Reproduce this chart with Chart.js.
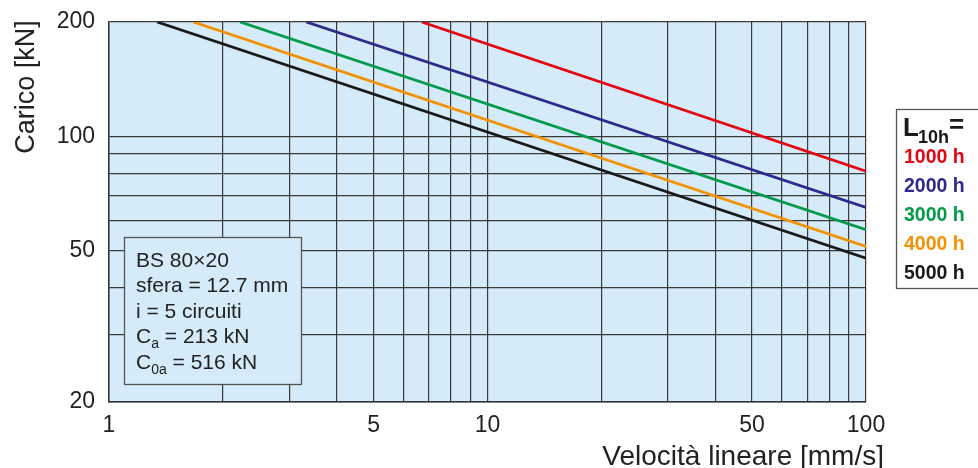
<!DOCTYPE html>
<html>
<head>
<meta charset="utf-8">
<script src="https://cdn.jsdelivr.net/npm/chart.js@4.4.1/dist/chart.umd.min.js"></script>
<style>
html,body{margin:0;padding:0;background:#fff;}
#wrap{width:978px;height:468px;position:relative;}
</style>
</head>
<body>
<div id="wrap"><canvas id="c" width="978" height="468"></canvas></div>
<script>
// ---- data ----
const seriesLabels = ['1000 h', '2000 h', '3000 h', '4000 h', '5000 h'];
const seriesColors = ['#e30613', '#2e2a8c', '#009a48', '#f39200', '#1a1a1a'];
const startSpeed = [6.7, 3.32, 2.22, 1.67, 1.34];   // mm/s where curve meets 200 kN
const startLoad  = [200, 200, 200, 200, 200];
const endSpeed   = [100, 100, 100, 100, 100];
const endLoad    = [81, 65, 56.8, 51.3, 47.8];       // kN at 100 mm/s

const xTickValues = [1,2,3,4,5,6,7,8,9,10,20,30,40,50,60,70,80,90,100];
const xTickLabels = ['1','5','10','50','100'];
const yTickValues = [20,30,40,50,60,70,80,90,100,200];
const yTickLabels = ['20','50','100','200'];

const infoLines = [
  {main:'BS 80\u00d720', sub:'', rest:''},
  {main:'sfera = 12.7 mm', sub:'', rest:''},
  {main:'i = 5 circuiti', sub:'', rest:''},
  {main:'C', sub:'a', rest:' = 213 kN'},
  {main:'C', sub:'0a', rest:' = 516 kN'}
];

const datasets = seriesLabels.map((lab, i) => ({
  label: lab,
  data: [{x: startSpeed[i], y: startLoad[i]}, {x: endSpeed[i], y: endLoad[i]}],
  borderColor: seriesColors[i],
  backgroundColor: seriesColors[i],
  borderWidth: 2.8,
  pointRadius: 0,
  showLine: true,
  fill: false
}));

const FONT = '"Liberation Sans", Arial, Helvetica, sans-serif';

const decor = {
  id: 'decor',
  beforeDraw(chart) {
    const {ctx, chartArea: a} = chart;
    ctx.save();
    ctx.fillStyle = '#d5ebf9';
    ctx.fillRect(a.left, a.top, a.right - a.left, a.bottom - a.top);
    ctx.restore();
  },
  afterDraw(chart) {
    const {ctx} = chart;
    ctx.save();
    // axis titles
    ctx.fillStyle = '#222';
    ctx.font = '27px ' + FONT;
    ctx.textAlign = 'center';
    ctx.textBaseline = 'middle';
    ctx.save();
    ctx.translate(27, 87);
    ctx.rotate(-Math.PI / 2);
    ctx.fillText('Carico [kN]', 0, 0);
    ctx.restore();
    ctx.font = '28px ' + FONT;
    ctx.textAlign = 'right';
    ctx.textBaseline = 'alphabetic';
    ctx.fillText('Velocit\u00e0 lineare [mm/s]', 884, 465);

    // info box
    ctx.fillStyle = '#d5ebf9';
    ctx.fillRect(124, 237, 178, 148);
    ctx.strokeStyle = '#555';
    ctx.lineWidth = 1.3;
    ctx.strokeRect(124.5, 237.5, 177, 147);
    ctx.fillStyle = '#222';
    ctx.textAlign = 'left';
    ctx.textBaseline = 'middle';
    infoLines.forEach((l, i) => {
      const y = 261 + i * 25.5;
      let x = 136;
      ctx.font = '21px ' + FONT;
      ctx.fillText(l.main, x, y);
      x += ctx.measureText(l.main).width;
      if (l.sub) {
        ctx.font = '14px ' + FONT;
        ctx.fillText(l.sub, x, y + 7);
        x += ctx.measureText(l.sub).width;
        ctx.font = '21px ' + FONT;
        ctx.fillText(l.rest, x, y);
      }
    });

    // legend box
    ctx.fillStyle = '#fff';
    ctx.fillRect(896, 109, 90, 180);
    ctx.strokeStyle = '#555';
    ctx.lineWidth = 1.3;
    ctx.strokeRect(896.5, 109.5, 90, 179);
    ctx.fillStyle = '#1a1a1a';
    ctx.font = 'bold 26px ' + FONT;
    ctx.textBaseline = 'alphabetic';
    let lx = 903;
    ctx.fillText('L', lx, 136);
    lx += ctx.measureText('L').width - 1;
    ctx.font = 'bold 18px ' + FONT;
    ctx.fillText('10h', lx, 143);
    lx += ctx.measureText('10h').width;
    ctx.font = 'bold 26px ' + FONT;
    ctx.fillText('=', lx, 133);
    ctx.font = 'bold 19.5px ' + FONT;
    ctx.textBaseline = 'middle';
    seriesLabels.forEach((lab, i) => {
      ctx.fillStyle = seriesColors[i];
      ctx.fillText(lab, 904, 158 + i * 29);
    });
    ctx.restore();
  }
};

new Chart(document.getElementById('c'), {
  type: 'scatter',
  data: {datasets},
  options: {
    responsive: false,
    animation: false,
    layout: {padding: {top: 22, right: 112, left: 0, bottom: 0}},
    plugins: {legend: {display: false}, tooltip: {enabled: false}},
    scales: {
      x: {
        type: 'logarithmic',
        min: 1, max: 100,
        afterBuildTicks(s) { s.ticks = xTickValues.map(v => ({value: v})); },
        afterFit(s) { s.height = 66; s.paddingLeft = 0; s.paddingRight = 0; },
        grid: {color: '#3a3a3a', lineWidth: 1.2, drawTicks: false},
        border: {color: '#333', width: 1.5},
        ticks: {
          autoSkip: false, maxRotation: 0, padding: 10,
          color: '#222', font: {family: FONT, size: 23},
          callback: (v) => xTickLabels.includes(String(v)) ? String(v) : ''
        }
      },
      y: {
        type: 'logarithmic',
        min: 20, max: 200,
        afterBuildTicks(s) { s.ticks = yTickValues.map(v => ({value: v})); },
        afterFit(s) { s.width = 109; s.paddingTop = 0; s.paddingBottom = 0; },
        grid: {color: '#3a3a3a', lineWidth: 1.2, drawTicks: false},
        border: {color: '#333', width: 1.5},
        ticks: {
          autoSkip: false, padding: 14,
          color: '#222', font: {family: FONT, size: 23},
          callback: (v) => yTickLabels.includes(String(v)) ? String(v) : ''
        }
      }
    }
  },
  plugins: [decor]
});
</script>
</body>
</html>
